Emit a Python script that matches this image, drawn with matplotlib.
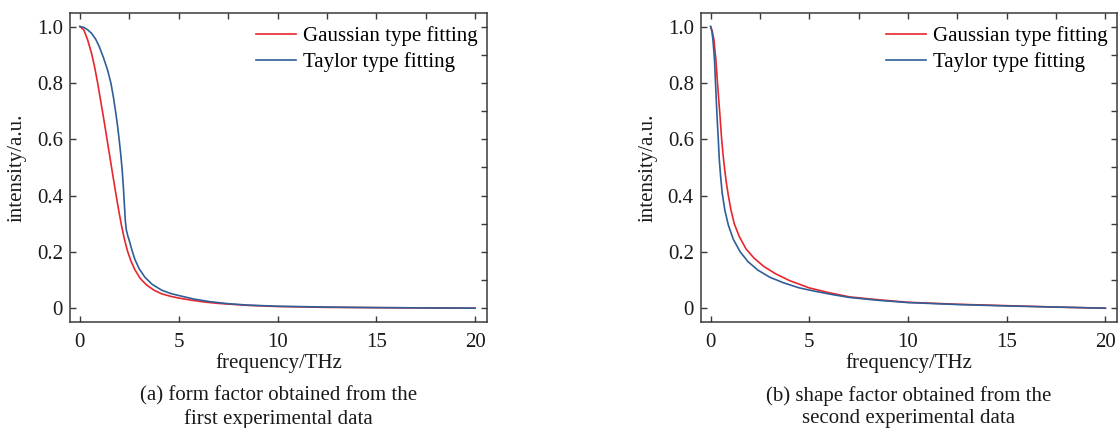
import matplotlib
matplotlib.use("Agg")
import matplotlib.pyplot as plt
from matplotlib.ticker import MultipleLocator, FixedLocator

plt.rcParams['font.family'] = ['Liberation Serif', 'DejaVu Serif']
plt.rcParams['font.size'] = 15

# ---- data -------------------------------------------------------------
# (a) form factor, first experimental data
freq_a_gauss = [0, 0.2, 0.39, 0.59, 0.75, 0.90, 1.03, 1.16, 1.27, 1.38, 1.52,
                1.65, 1.76, 1.86, 1.98, 2.11, 2.25, 2.40, 2.58, 2.78, 3.05,
                3.38, 3.75, 4.14, 4.6, 5.0, 5.6, 6.3, 7.0, 8.5, 10, 12.5, 15,
                17.5, 20]
int_a_gauss = [1.0, 0.988, 0.953, 0.905, 0.855, 0.799, 0.745, 0.692, 0.645,
               0.597, 0.536, 0.479, 0.432, 0.390, 0.341, 0.292, 0.246, 0.205,
               0.168, 0.137, 0.106, 0.082, 0.064, 0.051, 0.042, 0.036, 0.029,
               0.022, 0.017, 0.010, 0.006, 0.003, 0.002, 0.001, 0.0]

freq_a_taylor = [0, 0.2, 0.4, 0.59, 0.8, 0.98, 1.2, 1.40, 1.57, 1.70, 1.82,
                 1.91, 1.99, 2.07, 2.14, 2.20, 2.25, 2.30, 2.35, 2.42, 2.50,
                 2.63, 2.78, 3.0, 3.29, 3.65, 4.14, 4.6, 5.0, 5.8, 6.6, 7.5,
                 8.5, 10, 12.5, 15, 17.5, 20]
int_a_taylor = [1.0, 0.997, 0.988, 0.976, 0.955, 0.929, 0.888, 0.846, 0.799,
                0.748, 0.692, 0.645, 0.597, 0.545, 0.491, 0.430, 0.370, 0.310,
                0.278, 0.258, 0.240, 0.207, 0.174, 0.140, 0.110, 0.085, 0.064,
                0.052, 0.045, 0.032, 0.023, 0.016, 0.011, 0.007, 0.004, 0.002,
                0.001, 0.0]

# (b) shape factor, second experimental data
freq_b_gauss = [0, 0.08, 0.17, 0.27, 0.35, 0.42, 0.48, 0.56, 0.64, 0.72, 0.80,
                0.90, 1.03, 1.2, 1.45, 1.8, 2.2, 2.7, 3.3, 4.0, 5.0, 6.0, 7.05,
                8.5, 10, 12.5, 15, 17.5, 20]
int_b_gauss = [1.0, 0.985, 0.953, 0.881, 0.80, 0.735, 0.68, 0.601, 0.54, 0.49,
               0.445, 0.400, 0.350, 0.300, 0.255, 0.210, 0.178, 0.148, 0.122,
               0.098, 0.072, 0.055, 0.040, 0.030, 0.021, 0.014, 0.009, 0.004,
               0.0]

freq_b_taylor = [0, 0.06, 0.12, 0.20, 0.25, 0.32, 0.39, 0.44, 0.51, 0.59, 0.72,
                 0.9, 1.15, 1.5, 1.9, 2.4, 3.0, 3.7, 4.5, 5.3, 6.2, 7.05, 8.5,
                 10, 12.5, 15, 17.5, 20]
int_b_taylor = [1.0, 0.985, 0.953, 0.881, 0.80, 0.692, 0.601, 0.53, 0.467,
                0.408, 0.349, 0.295, 0.245, 0.200, 0.165, 0.135, 0.110, 0.090,
                0.072, 0.060, 0.048, 0.038, 0.028, 0.020, 0.013, 0.008, 0.004,
                0.0]

x_ticks = [0, 5, 10, 15, 20]
y_ticks = [0, 0.2, 0.4, 0.6, 0.8, 1.0]
y_tick_labels = ['0', '0.2', '0.4', '0.6', '0.8', '1.0']
series_labels = ['Gaussian type fitting', 'Taylor type fitting']
captions = ['(a) form factor obtained from the\nfirst experimental data',
            '(b) shape factor obtained from the\nsecond experimental data']

RED = '#e8262d'
BLUE = '#2e5f98'
EDGE = '#3a3a3a'

W, H = 1118, 428
fig = plt.figure(figsize=(W / 100, H / 100), dpi=100)

panels = [
    (fig.add_axes([70 / W, 1 - 322 / H, 417 / W, 309 / H]),
     (freq_a_gauss, int_a_gauss), (freq_a_taylor, int_a_taylor), captions[0]),
    (fig.add_axes([700.7 / W, 1 - 322 / H, 416.5 / W, 309 / H]),
     (freq_b_gauss, int_b_gauss), (freq_b_taylor, int_b_taylor), captions[1]),
]

for ax, gauss, taylor, cap in panels:
    ax.plot(*gauss, color=RED, lw=1.2, label=series_labels[0])
    ax.plot(*taylor, color=BLUE, lw=1.2, label=series_labels[1])
    ax.set_xlim(-0.5, 20.6)
    ax.set_ylim(-0.049, 1.048)

    ax.xaxis.set_major_locator(FixedLocator(x_ticks))
    ax.yaxis.set_major_locator(FixedLocator(y_ticks))
    ax.set_yticklabels(y_tick_labels)
    ax.xaxis.set_minor_locator(MultipleLocator(2.5))
    ax.yaxis.set_minor_locator(MultipleLocator(0.1))

    ax.tick_params(which='both', direction='in', length=4.5, width=1,
                   color=EDGE, labelcolor='#1a1a1a')
    ax.tick_params(axis='x', which='major', pad=8, top=True)
    ax.tick_params(axis='y', which='major', pad=5, right=True)
    ax.tick_params(which='minor', bottom=False, top=True, left=False, right=True)
    for s in ax.spines.values():
        s.set_color(EDGE)
        s.set_linewidth(1.1)

    ax.set_ylabel('intensity/a.u.', color='#1a1a1a')
    ax.yaxis.label.set_va('center')
    ax.yaxis.set_label_coords(-0.126, 0.5)
    ax.set_xlabel('frequency/THz', color='#1a1a1a')
    ax.xaxis.label.set_va('center')
    ax.xaxis.set_label_coords(0.5, (322 - 363) / 309)

    ax.legend(loc='upper right', bbox_to_anchor=(0.998, 0.984),
              borderaxespad=0, frameon=False, handlelength=1.92,
              handletextpad=0.34, labelspacing=0.3)

    pos = ax.get_position()
    fig.text((pos.x0 + pos.x1) / 2, 1 - 386 / H, cap, ha='center', va='top',
             linespacing=1.25, color='#1a1a1a')

fig.savefig('out.png', dpi=100)
